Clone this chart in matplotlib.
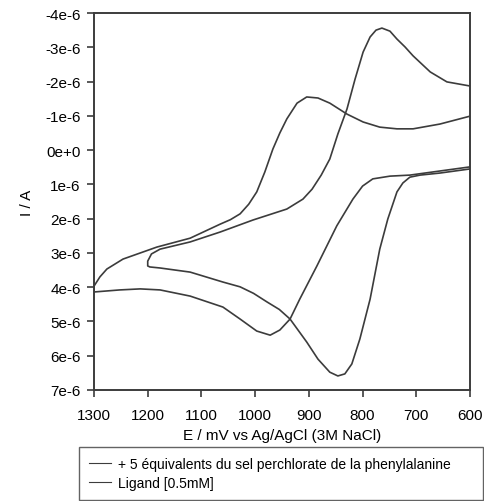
import matplotlib
matplotlib.use("Agg")
import matplotlib.pyplot as plt

plt.rcParams['font.family'] = ['Liberation Sans', 'DejaVu Sans']

# curve with the larger peaks, scan 600 -> 1200 -> 600 mV
a_fwd_E = [600, 656, 693, 712, 725, 736, 753, 768, 786, 805, 820, 833, 846, 861, 883, 904, 935, 955, 978, 1003, 1028, 1060, 1121, 1177, 1196, 1200]
a_fwd_I = [0.55, 0.67, 0.73, 0.79, 0.96, 1.22, 2.01, 2.89, 4.35, 5.51, 6.24, 6.53, 6.59, 6.48, 6.10, 5.60, 4.93, 4.65, 4.43, 4.18, 3.99, 3.85, 3.56, 3.44, 3.41, 3.38]
a_rev_E = [1200, 1193, 1177, 1153, 1121, 1065, 1004, 941, 911, 894, 877, 861, 846, 829, 814, 799, 786, 775, 764, 749, 736, 721, 706, 674, 643, 600]
a_rev_I = [3.24, 3.03, 2.89, 2.80, 2.68, 2.39, 2.04, 1.72, 1.43, 1.14, 0.73, 0.26, -0.47, -1.20, -2.07, -2.86, -3.30, -3.50, -3.56, -3.47, -3.24, -3.01, -2.75, -2.28, -1.99, -1.87]

# ligand curve, scan 600 -> 1300 -> 600 mV
b_fwd_E = [600, 656, 712, 749, 781, 800, 818, 848, 885, 917, 935, 954, 972, 997, 1028, 1060, 1121, 1177, 1214, 1252, 1300]
b_fwd_I = [0.49, 0.61, 0.73, 0.76, 0.84, 1.05, 1.43, 2.21, 3.38, 4.35, 4.93, 5.25, 5.40, 5.28, 4.93, 4.58, 4.26, 4.08, 4.05, 4.08, 4.14]
b_rev_E = [1300, 1289, 1276, 1246, 1183, 1121, 1065, 1046, 1028, 1012, 997, 982, 967, 954, 941, 922, 904, 883, 861, 829, 799, 768, 736, 706, 656, 600]
b_rev_I = [3.97, 3.70, 3.47, 3.18, 2.83, 2.57, 2.16, 2.03, 1.86, 1.58, 1.22, 0.64, -0.03, -0.50, -0.91, -1.37, -1.55, -1.52, -1.37, -1.05, -0.82, -0.67, -0.62, -0.62, -0.76, -0.99]

labels = ["+ 5 équivalents du sel perchlorate de la phenylalanine", "Ligand [0.5mM]"]
y_ticks = [-4e-6, -3e-6, -2e-6, -1e-6, 0, 1e-6, 2e-6, 3e-6, 4e-6, 5e-6, 6e-6, 7e-6]
y_tick_labels = ["-4e-6", "-3e-6", "-2e-6", "-1e-6", "0e+0", "1e-6", "2e-6", "3e-6", "4e-6", "5e-6", "6e-6", "7e-6"]
x_ticks = [1300, 1200, 1100, 1000, 900, 800, 700, 600]

fig = plt.figure(figsize=(4.84, 5.02), dpi=100)
ax = fig.add_axes([94 / 484, 1 - 391 / 502, 376 / 484, 377 / 502])

col = '#3c3c3c'
e6 = 1e-6
ax.plot(a_fwd_E + a_rev_E, [v * e6 for v in a_fwd_I + a_rev_I], color=col, lw=1.2, label=labels[0])
ax.plot(b_fwd_E + b_rev_E, [v * e6 for v in b_fwd_I + b_rev_I], color=col, lw=1.2, label=labels[1])

ax.set_xlim(1300, 600)
ax.set_ylim(7e-6, -4e-6)
ax.set_xticks(x_ticks)
ax.set_yticks(y_ticks)
ax.set_yticklabels(y_tick_labels)
ax.tick_params(direction='out', length=5, width=1.2, labelsize=11, color=col)
ax.tick_params(axis='x', pad=8)
ax.tick_params(axis='y', pad=4.5)
for s in ax.spines.values():
    s.set_linewidth(1.4)
    s.set_color(col)

ax.set_xlabel("E / mV vs Ag/AgCl (3M NaCl)", fontsize=11, labelpad=4)
ax.set_ylabel("I / A", fontsize=11, labelpad=8)

leg = fig.legend(loc='upper left', bbox_to_anchor=(79 / 484, 0, 404 / 484, 1 - 448 / 502),
                 mode='expand', borderaxespad=0, fontsize=10, handlelength=1.6,
                 handletextpad=0.5, borderpad=0.7, labelspacing=0.4, fancybox=False)
leg.get_frame().set_edgecolor(col)
leg.get_frame().set_linewidth(1.0)
for h in leg.get_lines():
    h.set_linewidth(0.8)

fig.savefig("out.png", dpi=100)
